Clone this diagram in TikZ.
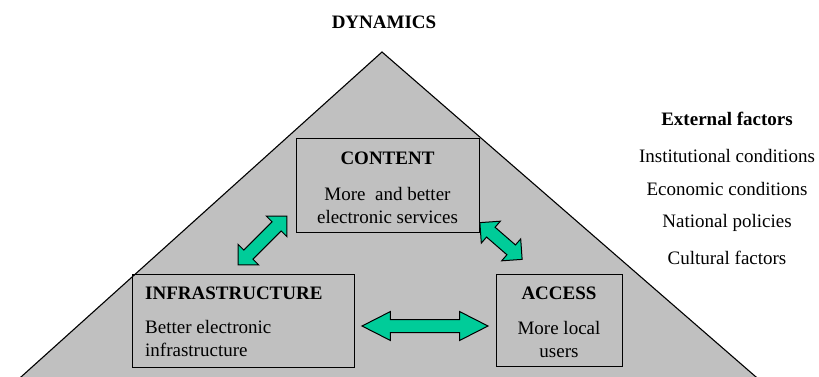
\documentclass[tikz,border=0pt]{standalone}
\usepackage{fontspec}
\setmainfont{Liberation Serif}
\usetikzlibrary{shapes.arrows}
\definecolor{tri}{HTML}{C0C0C0}
\definecolor{arr}{HTML}{00CC99}
\begin{document}
\begin{tikzpicture}[x=1pt,y=-1pt,
  txt/.style={inner sep=0pt,font=\fontsize{19}{23}\selectfont},
  bold/.style={txt,font=\fontsize{19}{23}\selectfont\bfseries},
  box/.style={draw=black,line width=1.2pt,inner sep=0pt,anchor=north west},
  dbl/.style={double arrow,draw=black,fill=arr,line width=1pt,inner xsep=0pt,inner ysep=6pt,double arrow head extend=8pt},
]
\useasboundingbox (0,0) rectangle (819,376);
\begin{scope}
\clip (0,0) rectangle (819,376);
\filldraw[fill=tri,draw=black,line width=1.1pt] (382,52) -- (782.5,400) -- (-4.6,400) -- cycle;
\end{scope}
\node[bold] (dyn) at (384,22) {DYNAMICS};
% boxes
\node[box,minimum width=183pt,minimum height=94pt] (content) at (296,138) {};
\node[box,minimum width=222pt,minimum height=93pt] (infra) at (132,274) {};
\node[box,minimum width=126pt,minimum height=92pt] (access) at (496,274) {};
% content text
\node[bold] (ct) at (387.5,158) {CONTENT};
\node[txt,align=center] (cd) at (387.5,205) {More\ \ and better\\electronic services};
% infra text
\node[bold,anchor=west] (it) at (145,293) {INFRASTRUCTURE};
\node[txt,align=left,anchor=west] (id) at (145,338) {Better electronic\\infrastructure};
% access text
\node[bold] (at) at (559,293) {ACCESS};
\node[txt,align=center] (ad) at (559,339) {More local\\users};
% arrows
\node[dbl,minimum height=126pt,double arrow tip angle=54] (a1) at (425,326) {};
\node[dbl,minimum height=69pt,double arrow tip angle=90,rotate=45] (a2) at (262.5,240.5) {};
\node[dbl,minimum height=56pt,double arrow tip angle=90,rotate=-41] (a3) at (501,241) {};
% external factors
\node[bold] (ef) at (727,119) {External factors};
\node[txt] (e1) at (727,156) {Institutional conditions};
\node[txt] (e2) at (727,189) {Economic conditions};
\node[txt] (e3) at (727,223) {National policies};
\node[txt] (e4) at (727,258) {Cultural factors};
\end{tikzpicture}
\end{document}
